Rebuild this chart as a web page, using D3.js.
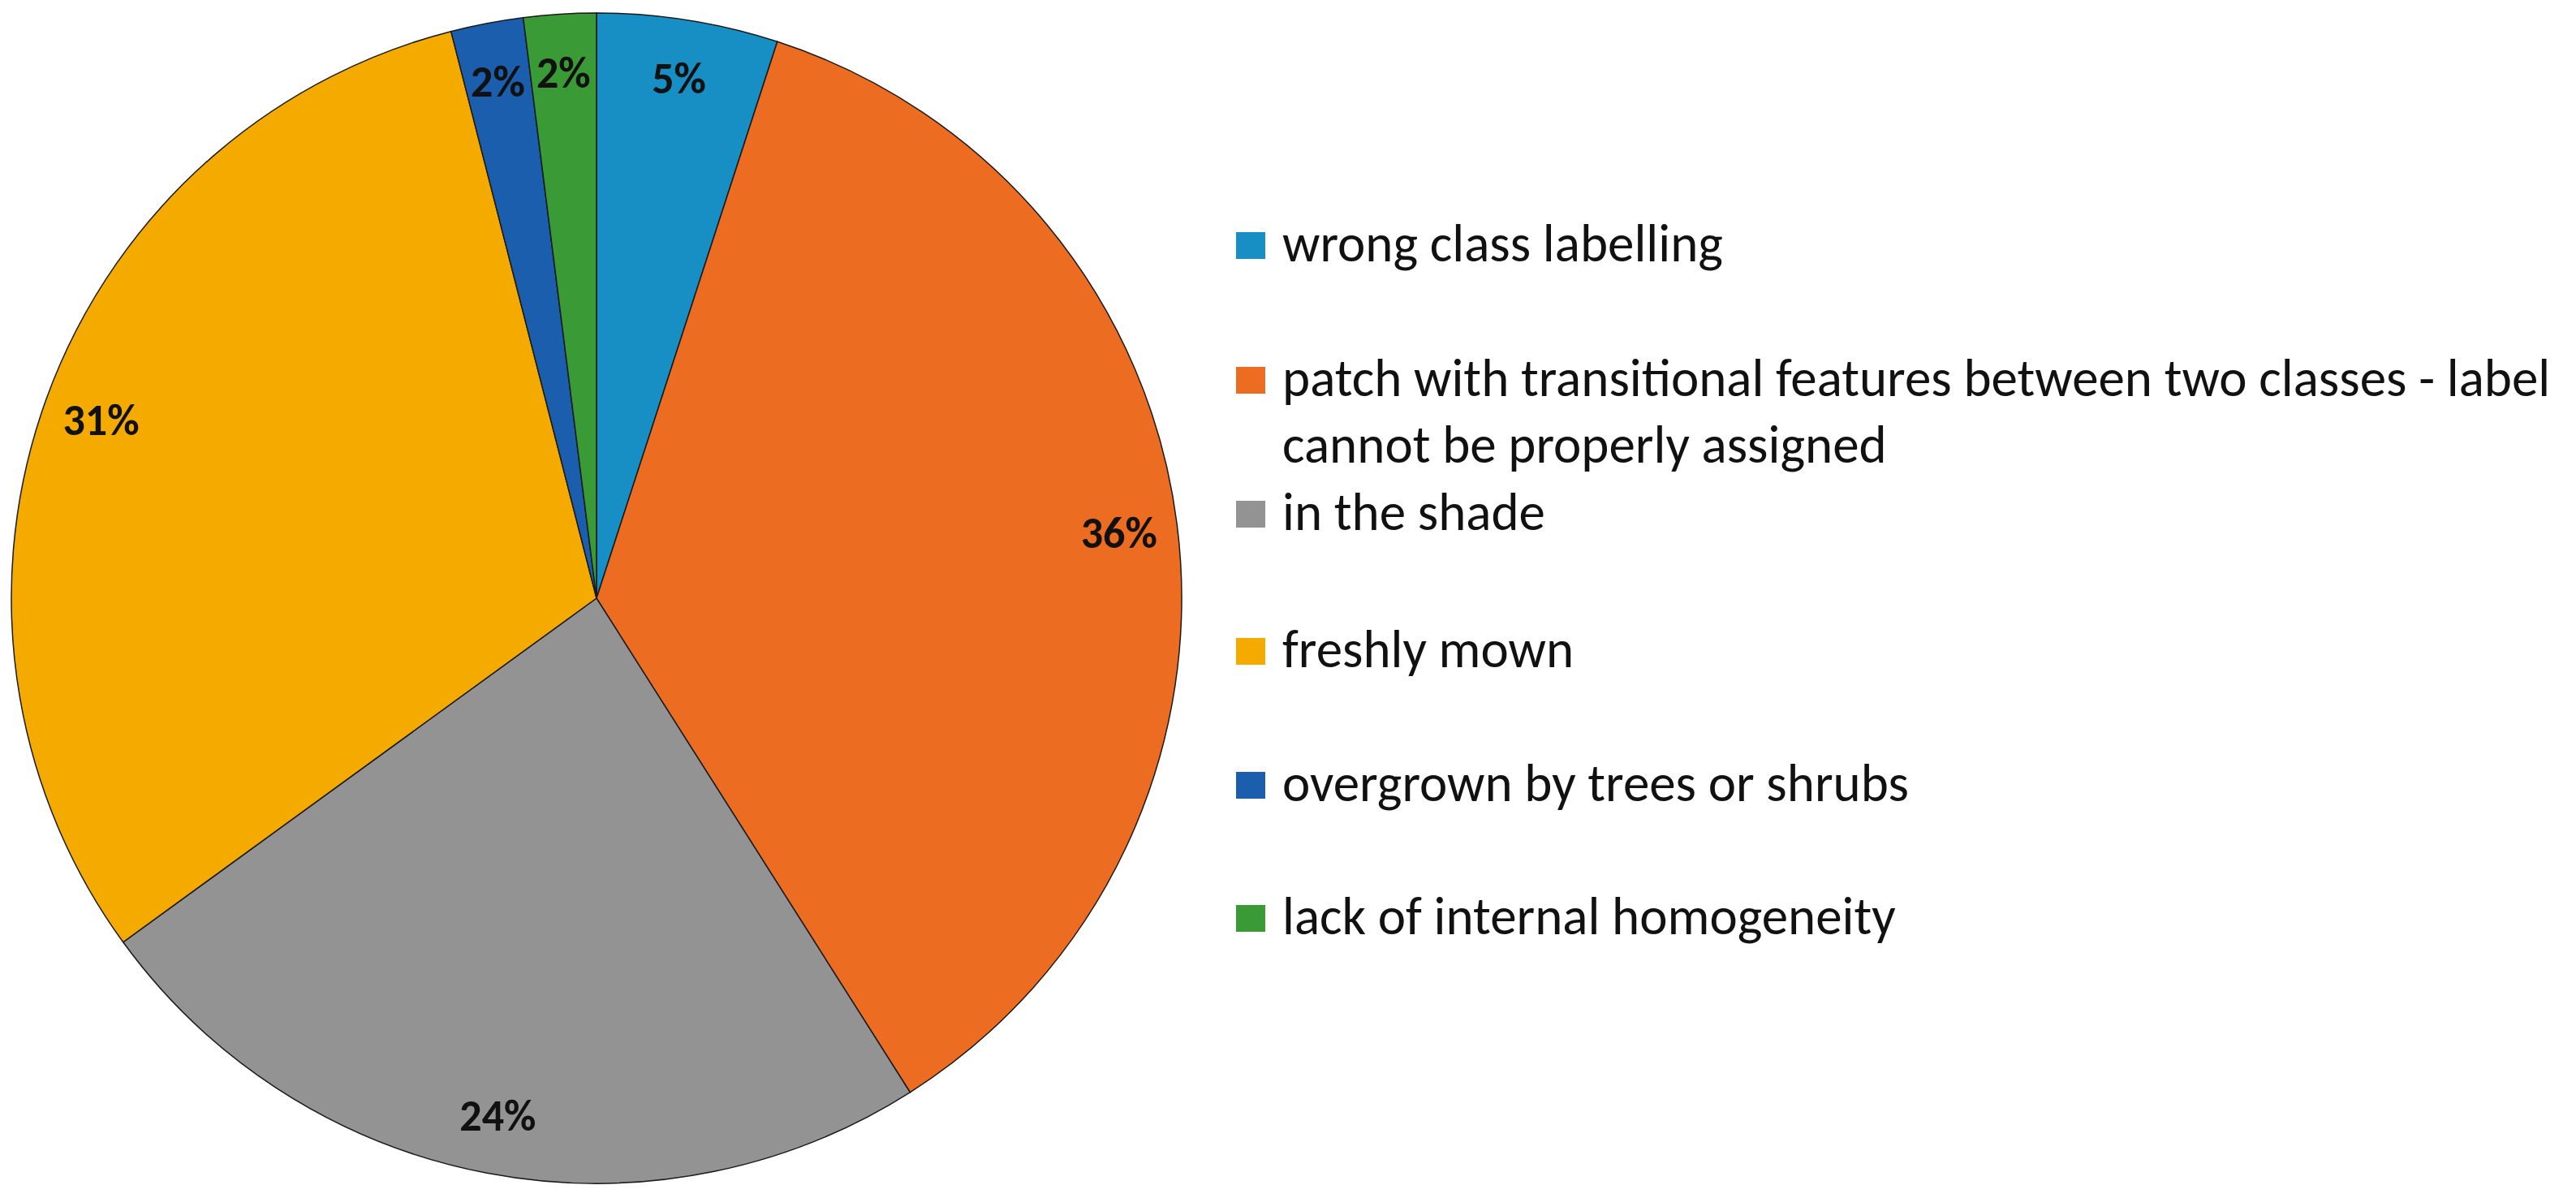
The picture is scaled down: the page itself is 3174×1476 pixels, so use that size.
<!DOCTYPE html>
<html lang="en">
<head>
  <meta charset="UTF-8">
  <title>Error sources</title>
  <script src="https://d3js.org/d3.v7.min.js"></script>
  <style>
    body {
      margin: 0;
      background: #fff;
    }
    svg text {
      font-family: Carlito, Calibri, Lato, "Open Sans", sans-serif;
    }
    .slice {
      stroke: #1a1a1a;
      stroke-width: 1.5px;
    }
    .pct {
      font-weight: 900;
      font-size: 54px;
      fill: #111;
    }
    .legend text {
      font-size: 65px;
      fill: #111;
    }
  </style>
</head>
<body>
  <div id="chart"></div>

  <script>
    const categories = [
      "wrong class labelling",
      "patch with transitional features between two classes - label cannot be properly assigned",
      "in the shade",
      "freshly mown",
      "overgrown by trees or shrubs",
      "lack of internal homogeneity"
    ];
    const values = [5, 36, 24, 31, 2, 2];
    const colors = ["#178ec4", "#ec6d21", "#939393", "#f5aa00", "#1b5eae", "#3a9a35"];
    // legend lines (the long entry wraps onto two lines)
    const legendLines = [
      ["wrong class labelling"],
      ["patch with transitional features between two classes - label", "cannot be properly assigned"],
      ["in the shade"],
      ["freshly mown"],
      ["overgrown by trees or shrubs"],
      ["lack of internal homogeneity"]
    ];
    const legendBaselines = [322, 488, 653, 822, 987, 1151];

    const width = 3174, height = 1476;
    const cx = 735, cy = 737, radius = 721;

    const svg = d3.select("#chart").append("svg")
      .attr("width", width)
      .attr("height", height);

    const pie = d3.pie().sort(null).value(d => d);
    const arcs = pie(values);

    const arc = d3.arc().innerRadius(0).outerRadius(radius);
    const labelArc = d3.arc().innerRadius(radius * 0.9).outerRadius(radius * 0.9);

    const g = svg.append("g").attr("transform", `translate(${cx},${cy})`);

    g.selectAll(".slice")
      .data(arcs)
      .enter().append("path")
      .attr("class", "slice")
      .attr("fill", (d, i) => colors[i])
      .attr("d", arc);

    g.selectAll(".pct")
      .data(arcs)
      .enter().append("text")
      .attr("class", "pct")
      .attr("transform", d => `translate(${labelArc.centroid(d)})`)
      .attr("text-anchor", "middle")
      .attr("dy", "0.35em")
      .text(d => d3.format(".0%")(d.data / d3.sum(values)));

    // legend
    const legend = svg.append("g").attr("class", "legend");
    const item = legend.selectAll("g")
      .data(categories)
      .enter().append("g");

    item.append("rect")
      .attr("x", 1523)
      .attr("y", (d, i) => legendBaselines[i] - 36)
      .attr("width", 36)
      .attr("height", 33)
      .attr("fill", (d, i) => colors[i]);

    item.append("text")
      .attr("x", 1580)
      .attr("y", (d, i) => legendBaselines[i])
      .selectAll("tspan")
      .data((d, i) => legendLines[i])
      .enter().append("tspan")
      .attr("x", 1580)
      .attr("dy", (d, j) => j === 0 ? 0 : 82)
      .text(d => d);
  </script>
</body>
</html>
